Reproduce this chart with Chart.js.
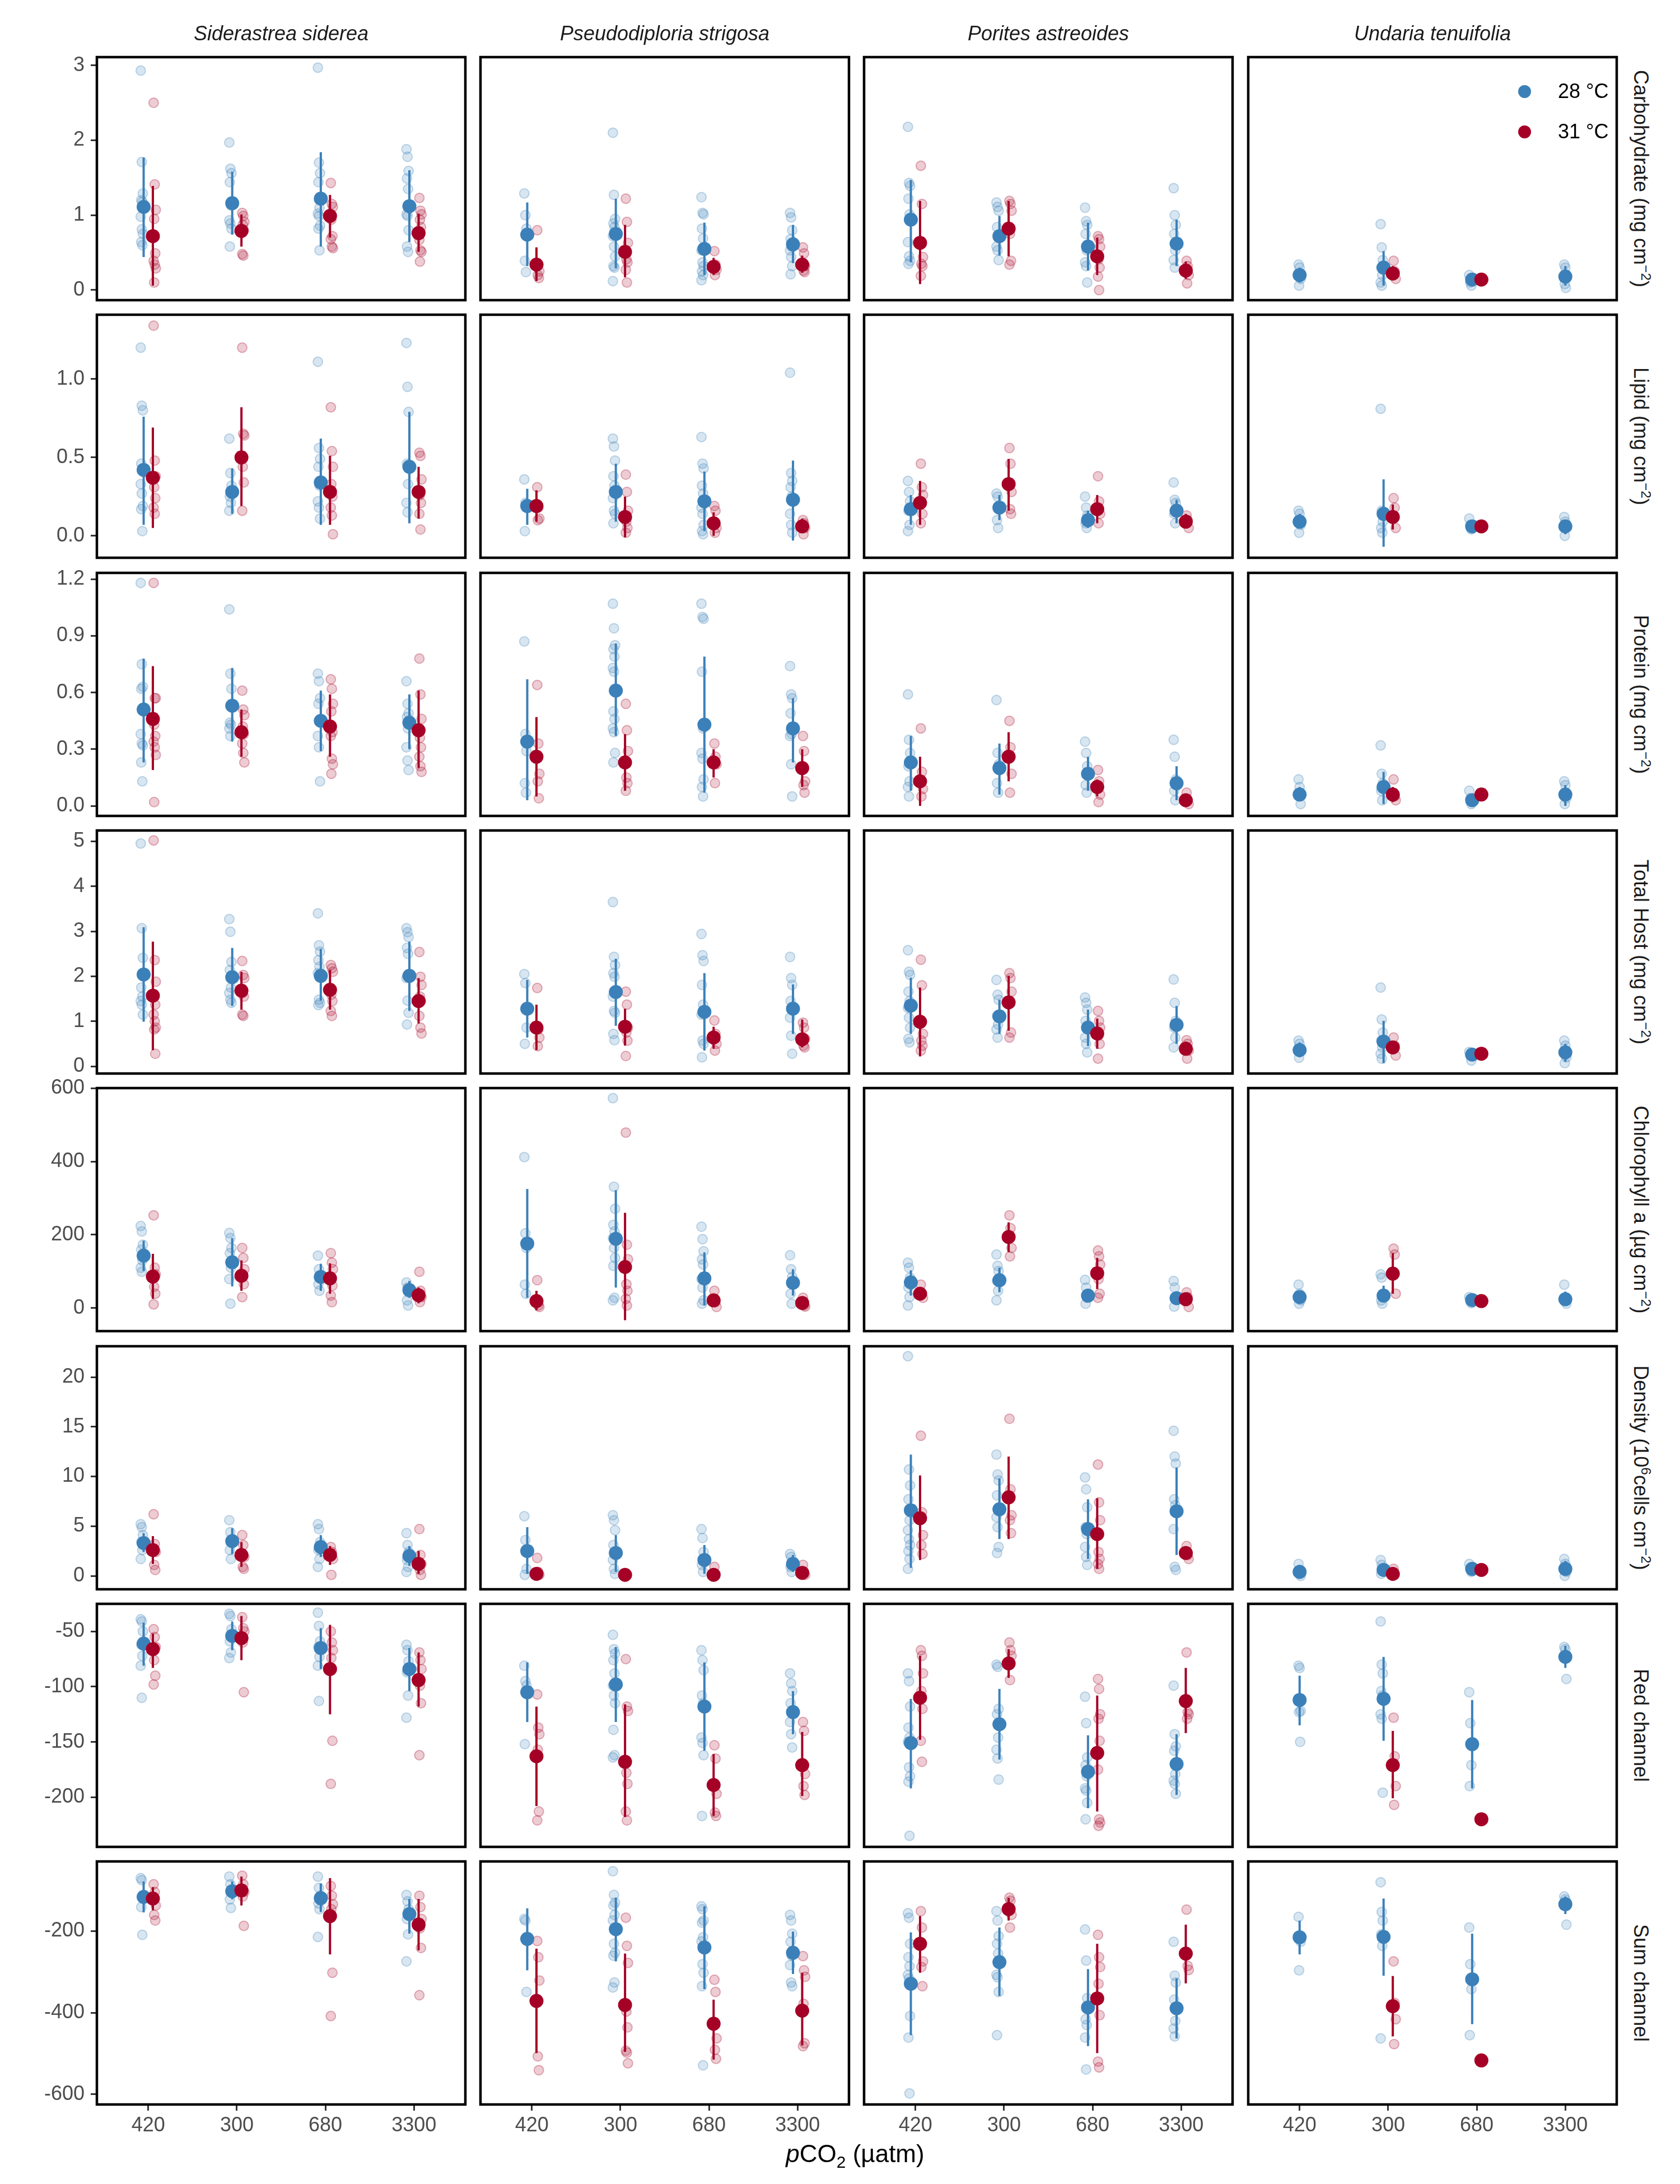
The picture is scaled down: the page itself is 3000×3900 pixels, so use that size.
<!DOCTYPE html>
<html>
<head>
<meta charset="utf-8">
<script src="https://cdn.jsdelivr.net/npm/chart.js@4.4.1/dist/chart.umd.min.js"></script>
<style>
  body { margin: 0; background: #fff; }
  #page { position: relative; width: 3000px; height: 3900px; font-family: 'Liberation Sans', Arial, sans-serif; }
  canvas { position: absolute; }
  .strip-top { position: absolute; top: 40px; width: 658px; text-align: center; font-style: italic; font-size: 36px; line-height: 40px; color: #1a1a1a; white-space: nowrap; }
  .strip-right { position: absolute; width: 434px; height: 40px; line-height: 40px; font-size: 36px; text-align: center; transform: rotate(90deg); color: #1a1a1a; white-space: nowrap; }
  sup, sub { font-size: 0.68em; line-height: 0; }
  .legend-dot { position: absolute; width: 23px; height: 23px; border-radius: 50%; }
  .legend-text { position: absolute; font-size: 36px; line-height: 40px; color: #000; white-space: nowrap; }
  .x-title { position: absolute; top: 3821px; left: 1227px; width: 600px; text-align: center; font-size: 44px; line-height: 50px; color: #000; }
</style>
</head>
<body>
<div id="page"></div>
<script>
// facets
const species = ['Siderastrea siderea', 'Pseudodiploria strigosa', 'Porites astreoides', 'Undaria tenuifolia'];
const pco2Labels = ['420', '300', '680', '3300'];
const rowLabels = [
    'Carbohydrate (mg cm<sup>−2</sup>)',
    'Lipid (mg cm<sup>−2</sup>)',
    'Protein (mg cm<sup>−2</sup>)',
    'Total Host (mg cm<sup>−2</sup>)',
    'Chlorophyll a (µg cm<sup>−2</sup>)',
    'Density (10<sup>6</sup>cells cm<sup>−2</sup>)',
    'Red channel',
    'Sum channel'
];
const yTickLabels = [
    ['0', '1', '2', '3'],
    ['0.0', '0.5', '1.0'],
    ['0.0', '0.3', '0.6', '0.9', '1.2'],
    ['0', '1', '2', '3', '4', '5'],
    ['0', '200', '400', '600'],
    ['0', '5', '10', '15', '20'],
    ['-200', '-150', '-100', '-50'],
    ['-600', '-400', '-200']
];
const yLimits = [[-0.135, 3.11], [-0.14, 1.41], [-0.053, 1.233], [-0.16, 5.24], [-63, 600.5], [-1.35, 23.1], [-245, -25], [-625, -29]];

// summaries: [species][pCO2] = [mean, lower, upper]; raw: [species][pCO2] = points
const carbSum28 = [
    [[1.11, 0.44, 1.77], [1.16, 0.74, 1.58], [1.22, 0.58, 1.84], [1.12, 0.64, 1.60]],
    [[0.74, 0.32, 1.17], [0.75, 0.29, 1.22], [0.55, 0.20, 0.90], [0.61, 0.36, 0.87]],
    [[0.94, 0.37, 1.47], [0.72, 0.46, 0.99], [0.58, 0.26, 0.90], [0.62, 0.32, 0.94]],
    [[0.20, 0.10, 0.30], [0.30, 0.06, 0.52], [0.14, 0.10, 0.18], [0.18, 0.06, 0.32]]
];
const carbSum31 = [
    [[0.72, 0.06, 1.39], [0.79, 0.58, 1.01], [0.99, 0.70, 1.27], [0.76, 0.51, 1.02]],
    [[0.34, 0.12, 0.57], [0.51, 0.17, 0.87], [0.31, 0.20, 0.43], [0.34, 0.23, 0.46]],
    [[0.63, 0.08, 1.19], [0.82, 0.45, 1.19], [0.45, 0.20, 0.70], [0.26, 0.15, 0.38]],
    [null, [0.22, 0.13, 0.32], [0.14, 0.14, 0.14], null]
];
const carbRaw28 = [
    [[2.93, 1.71, 1.29, 1.20, 1.18, 0.98, 0.81, 0.75, 0.64, 0.60], [1.97, 1.62, 1.56, 1.44, 1.13, 0.93, 0.89, 0.82, 0.58], [2.97, 1.70, 1.56, 1.44, 1.10, 1.02, 0.99, 0.86, 0.82, 0.53], [1.88, 1.78, 1.59, 1.49, 1.35, 1.01, 0.99, 0.80, 0.58, 0.51]],
    [[1.29, 1.00, 0.82, 0.39, 0.24], [2.10, 1.27, 0.95, 0.89, 0.84, 0.72, 0.58, 0.45, 0.32, 0.30, 0.12], [1.24, 1.03, 1.01, 0.82, 0.69, 0.53, 0.37, 0.32, 0.25, 0.20, 0.13], [1.03, 0.97, 0.80, 0.68, 0.58, 0.53, 0.44, 0.32, 0.21]],
    [[2.18, 1.43, 1.39, 1.22, 1.01, 0.64, 0.45, 0.39, 0.35], [1.17, 1.11, 1.06, 0.84, 0.70, 0.58, 0.53, 0.40], [1.10, 0.92, 0.87, 0.75, 0.53, 0.37, 0.32, 0.10], [1.36, 1.00, 0.87, 0.75, 0.53, 0.40, 0.30]],
    [[0.34, 0.30, 0.15, 0.06], [0.88, 0.57, 0.40, 0.30, 0.20, 0.10, 0.06], [0.20, 0.10, 0.06], [0.34, 0.30, 0.20, 0.08, 0.03]]
];
const carbRaw31 = [
    [[2.50, 1.41, 1.07, 0.95, 0.49, 0.39, 0.34, 0.29, 0.10], [1.03, 0.99, 0.91, 0.87, 0.80, 0.48, 0.46], [1.43, 1.15, 1.11, 0.94, 0.72, 0.68, 0.58, 0.56], [1.23, 1.06, 1.01, 0.94, 0.84, 0.67, 0.53, 0.51, 0.38]],
    [[0.80, 0.34, 0.25, 0.20, 0.16], [1.22, 0.91, 0.63, 0.41, 0.37, 0.27, 0.10], [0.52, 0.34, 0.27, 0.20], [0.57, 0.49, 0.32, 0.26, 0.24]],
    [[1.66, 1.15, 0.44, 0.35, 0.32, 0.19], [1.19, 1.15, 1.06, 0.75, 0.39, 0.34], [0.72, 0.68, 0.58, 0.41, 0.30, 0.18, 0.00], [0.39, 0.32, 0.20, 0.09]],
    [[], [0.39, 0.25, 0.15], [0.14], []]
];

const lipidSum28 = [
    [[0.42, 0.07, 0.76], [0.28, 0.14, 0.43], [0.34, 0.07, 0.62], [0.44, 0.08, 0.79]],
    [[0.19, 0.07, 0.30], [0.28, 0.09, 0.46], [0.22, 0.03, 0.41], [0.23, -0.03, 0.48]],
    [[0.17, 0.07, 0.26], [0.18, 0.10, 0.26], [0.10, 0.05, 0.16], [0.16, 0.08, 0.23]],
    [[0.09, 0.05, 0.14], [0.14, -0.07, 0.36], [0.06, 0.04, 0.08], [0.06, 0.01, 0.10]]
];
const lipidSum31 = [
    [[0.37, 0.05, 0.69], [0.50, 0.19, 0.82], [0.28, 0.07, 0.51], [0.28, 0.11, 0.44]],
    [[0.19, 0.09, 0.29], [0.12, -0.01, 0.25], [0.08, 0.00, 0.15], [0.06, 0.02, 0.11]],
    [[0.21, 0.07, 0.35], [0.33, 0.16, 0.49], [0.17, 0.08, 0.26], [0.09, 0.05, 0.14]],
    [null, [0.12, 0.04, 0.20], [0.06, 0.06, 0.06], null]
];
const lipidRaw28 = [
    [[1.20, 0.83, 0.80, 0.46, 0.43, 0.33, 0.27, 0.19, 0.17, 0.03], [0.62, 0.40, 0.32, 0.25, 0.21, 0.16], [1.11, 0.56, 0.49, 0.44, 0.32, 0.22, 0.18, 0.11], [1.23, 0.95, 0.79, 0.46, 0.33, 0.21, 0.15]],
    [[0.36, 0.21, 0.18, 0.03], [0.62, 0.57, 0.48, 0.38, 0.32, 0.24, 0.16, 0.14, 0.08], [0.63, 0.46, 0.43, 0.32, 0.27, 0.18, 0.14, 0.07, 0.03, 0.01], [1.04, 0.40, 0.35, 0.31, 0.25, 0.14, 0.07, 0.02]],
    [[0.35, 0.28, 0.22, 0.16, 0.07, 0.03], [0.27, 0.25, 0.17, 0.10, 0.05], [0.25, 0.18, 0.13, 0.08, 0.05], [0.34, 0.23, 0.21, 0.14, 0.08]],
    [[0.16, 0.14, 0.07, 0.02], [0.81, 0.16, 0.09, 0.05, 0.02], [0.11, 0.07, 0.04], [0.12, 0.09, 0.07, 0.00]]
];
const lipidRaw31 = [
    [[1.34, 0.48, 0.38, 0.31, 0.24, 0.18, 0.14], [1.20, 0.65, 0.64, 0.44, 0.34, 0.16], [0.82, 0.54, 0.44, 0.33, 0.25, 0.18, 0.13, 0.01], [0.53, 0.51, 0.36, 0.26, 0.21, 0.14, 0.04]],
    [[0.31, 0.18, 0.11, 0.10], [0.39, 0.28, 0.16, 0.09, 0.05, 0.02], [0.19, 0.16, 0.05, 0.02], [0.10, 0.08, 0.05, 0.01]],
    [[0.46, 0.31, 0.26, 0.21, 0.14, 0.08], [0.56, 0.46, 0.28, 0.17, 0.14], [0.38, 0.22, 0.14, 0.08], [0.13, 0.10, 0.05]],
    [[], [0.24, 0.18, 0.05], [0.06], []]
];

const protSum28 = [
    [[0.51, 0.23, 0.78], [0.53, 0.34, 0.73], [0.45, 0.29, 0.61], [0.44, 0.30, 0.59]],
    [[0.34, 0.03, 0.67], [0.61, 0.37, 0.86], [0.43, 0.07, 0.79], [0.41, 0.23, 0.57]],
    [[0.23, 0.08, 0.37], [0.20, 0.06, 0.33], [0.17, 0.08, 0.26], [0.12, 0.03, 0.21]],
    [[0.06, 0.03, 0.10], [0.10, 0.01, 0.18], [0.03, 0.02, 0.05], [0.06, 0.00, 0.11]]
];
const protSum31 = [
    [[0.46, 0.19, 0.74], [0.39, 0.26, 0.51], [0.42, 0.26, 0.59], [0.40, 0.20, 0.61]],
    [[0.26, 0.05, 0.47], [0.23, 0.08, 0.38], [0.23, 0.15, 0.30], [0.20, 0.10, 0.30]],
    [[0.13, 0.00, 0.26], [0.26, 0.13, 0.39], [0.10, 0.05, 0.14], [0.03, 0.02, 0.05]],
    [null, [0.06, 0.02, 0.10], [0.06, 0.06, 0.06], null]
];
const protRaw28 = [
    [[1.18, 0.75, 0.63, 0.62, 0.51, 0.38, 0.33, 0.32, 0.23, 0.13], [1.04, 0.70, 0.62, 0.44, 0.43, 0.41, 0.37], [0.70, 0.66, 0.57, 0.54, 0.45, 0.37, 0.31, 0.13], [0.66, 0.54, 0.49, 0.47, 0.41, 0.31, 0.24, 0.19]],
    [[0.87, 0.38, 0.29, 0.12, 0.07], [1.07, 0.94, 0.85, 0.83, 0.79, 0.73, 0.71, 0.62, 0.50, 0.46, 0.41, 0.39, 0.28, 0.23], [1.07, 1.00, 0.99, 0.71, 0.41, 0.28, 0.25, 0.14, 0.10, 0.05], [0.74, 0.59, 0.57, 0.49, 0.38, 0.37, 0.22, 0.05]],
    [[0.59, 0.35, 0.28, 0.21, 0.13, 0.10, 0.05], [0.56, 0.28, 0.22, 0.12, 0.07], [0.34, 0.28, 0.21, 0.11, 0.07], [0.35, 0.26, 0.14, 0.08, 0.03]],
    [[0.14, 0.10, 0.01], [0.32, 0.17, 0.12, 0.08, 0.03], [0.08, 0.04, 0.01], [0.13, 0.11, 0.04, 0.01]]
];
const protRaw31 = [
    [[1.18, 0.57, 0.57, 0.43, 0.37, 0.34, 0.31, 0.27, 0.02], [0.61, 0.51, 0.48, 0.42, 0.38, 0.33, 0.28, 0.23], [0.67, 0.62, 0.54, 0.50, 0.39, 0.37, 0.25, 0.22, 0.17], [0.78, 0.59, 0.46, 0.36, 0.31, 0.26, 0.21, 0.18]],
    [[0.64, 0.33, 0.17, 0.13, 0.04], [0.54, 0.40, 0.29, 0.15, 0.12, 0.08], [0.33, 0.26, 0.22, 0.12], [0.37, 0.29, 0.13, 0.11, 0.07]],
    [[0.41, 0.18, 0.09, 0.05], [0.45, 0.31, 0.17, 0.07], [0.19, 0.13, 0.06, 0.02], [0.07, 0.03, 0.01]],
    [[], [0.14, 0.05, 0.03], [0.06], []]
];

const hostSum28 = [
    [[2.04, 0.99, 3.09], [1.98, 1.34, 2.63], [2.01, 1.46, 2.61], [2.01, 1.23, 2.77]],
    [[1.28, 0.64, 1.92], [1.65, 0.90, 2.39], [1.21, 0.35, 2.07], [1.28, 0.72, 1.82]],
    [[1.35, 0.72, 1.97], [1.11, 0.72, 1.48], [0.86, 0.45, 1.26], [0.92, 0.50, 1.34]],
    [[0.36, 0.20, 0.53], [0.55, 0.07, 1.01], [0.26, 0.20, 0.32], [0.31, 0.10, 0.50]]
];
const hostSum31 = [
    [[1.57, 0.36, 2.77], [1.68, 1.26, 2.10], [1.70, 1.26, 2.14], [1.45, 0.95, 1.96]],
    [[0.86, 0.36, 1.37], [0.88, 0.46, 1.28], [0.64, 0.39, 0.88], [0.60, 0.42, 1.04]],
    [[0.99, 0.22, 1.75], [1.42, 0.79, 2.01], [0.73, 0.39, 1.06], [0.39, 0.24, 0.55]],
    [null, [0.42, 0.28, 0.57], [0.28, 0.28, 0.28], null]
];
const hostRaw28 = [
    [[4.95, 3.07, 2.41, 1.75, 1.55, 1.45, 1.37, 1.15], [3.27, 2.99, 2.32, 2.14, 1.75, 1.63, 1.48, 1.41], [3.40, 2.69, 2.55, 2.36, 2.21, 2.07, 1.48, 1.41, 1.36], [3.07, 2.98, 2.87, 2.63, 2.50, 1.96, 1.46, 1.19, 0.93]],
    [[2.05, 1.85, 0.86, 0.50], [3.65, 2.43, 2.25, 2.07, 1.99, 1.55, 1.23, 1.19, 0.72, 0.58], [2.94, 2.47, 2.34, 1.81, 1.37, 1.15, 0.57, 0.50, 0.20], [2.43, 1.96, 1.81, 1.45, 1.26, 1.08, 0.68, 0.28]],
    [[2.58, 2.10, 2.03, 1.66, 1.45, 1.30, 1.08, 0.86, 0.61, 0.53], [1.92, 1.59, 1.48, 1.12, 0.93, 0.82, 0.64], [1.53, 1.41, 1.26, 1.01, 0.86, 0.64, 0.50, 0.31], [1.93, 1.41, 1.01, 0.86, 0.64, 0.42]],
    [[0.57, 0.50, 0.35, 0.19], [1.75, 1.04, 0.75, 0.57, 0.42, 0.28, 0.17], [0.32, 0.24, 0.13], [0.57, 0.46, 0.20, 0.07]]
];
const hostRaw31 = [
    [[5.02, 2.36, 1.88, 1.55, 1.37, 1.15, 1.00, 0.86, 0.82, 0.28], [2.34, 2.03, 1.96, 1.63, 1.55, 1.15, 1.12], [2.25, 2.18, 2.10, 1.59, 1.45, 1.23, 1.12], [2.54, 1.99, 1.81, 1.55, 1.45, 1.12, 0.86, 0.73]],
    [[1.74, 0.82, 0.64, 0.45], [1.66, 1.37, 0.86, 0.75, 0.57, 0.23], [1.02, 0.72, 0.50, 0.35], [0.97, 0.86, 0.61, 0.46, 0.42]],
    [[2.37, 1.80, 0.72, 0.57, 0.46, 0.35], [2.07, 1.96, 1.66, 1.45, 0.75, 0.64], [1.23, 1.01, 0.86, 0.68, 0.50, 0.17], [0.58, 0.50, 0.35, 0.17]],
    [[], [0.64, 0.46, 0.24], [0.28], []]
];

const chlSum28 = [
    [[143, 101, 184], [125, 59, 191], [85, 47, 121], [49, 28, 74]],
    [[176, 28, 325], [189, 56, 322], [81, 7, 152], [69, 34, 106]],
    [[70, 34, 103], [76, 43, 110], [34, 20, 47], [27, 13, 40]],
    [[30, 16, 43], [34, 16, 61], [22, 17, 27], [24, 7, 45]]
];
const chlSum31 = [
    [[86, 25, 148], [88, 47, 130], [81, 39, 122], [35, 13, 56]],
    [[19, -6, 47], [112, -33, 260], [21, 7, 34], [14, 3, 28]],
    [[39, 28, 49], [194, 153, 234], [95, 52, 137], [24, 12, 37]],
    [null, [94, 39, 150], [19, 19, 19], null]
];
const chlRaw28 = [
    [[224, 209, 173, 159, 130, 110, 99], [205, 191, 164, 150, 110, 79, 12], [143, 106, 83, 65, 47], [70, 56, 43, 21, 7]],
    [[412, 204, 164, 64, 39], [573, 331, 271, 227, 209, 191, 164, 137, 115, 28, 21], [222, 188, 155, 133, 119, 79, 56, 21, 12], [144, 106, 85, 39, 12]],
    [[124, 110, 83, 56, 30, 7], [146, 115, 101, 74, 47, 21], [77, 56, 28, 12], [74, 56, 30, 4]],
    [[64, 39, 21, 12], [92, 83, 39, 21, 12], [30, 19, 13], [64, 25, 12]]
];
const chlRaw31 = [
    [[253, 110, 92, 58, 39, 10], [164, 137, 106, 92, 65, 30], [150, 124, 106, 83, 61, 34, 16], [99, 47, 30, 16]],
    [[76, 7, 3], [479, 173, 133, 65, 47, 25, 7], [47, 16, 3], [28, 7, 4]],
    [[64, 39, 28], [253, 218, 164, 141], [157, 141, 119, 79, 39, 28], [43, 30, 3]],
    [[], [162, 146, 39], [19], []]
];

const densSum28 = [
    [[3.3, 2.4, 4.3], [3.5, 2.2, 4.8], [2.9, 1.9, 4.1], [2.0, 1.0, 3.0]],
    [[2.5, 0.2, 4.9], [2.3, 0.4, 4.1], [1.6, 0.2, 3.1], [1.2, 0.4, 2.1]],
    [[6.6, 0.8, 12.2], [6.7, 3.7, 9.8], [4.7, 1.7, 7.7], [6.5, 2.1, 10.9]],
    [[0.4, -0.1, 1.1], [0.6, 0.1, 1.2], [0.7, 0.4, 1.0], [0.7, 0.0, 1.5]]
];
const densSum31 = [
    [[2.6, 1.2, 4.0], [2.1, 0.9, 3.4], [2.1, 1.1, 3.0], [1.2, 0.2, 2.5]],
    [[0.2, 0.0, 0.5], [0.1, 0.0, 0.2], [0.1, 0.0, 0.3], [0.3, 0.1, 0.5]],
    [[5.8, 1.6, 10.1], [7.9, 3.7, 12.0], [4.2, 0.7, 7.8], [2.3, 1.9, 2.7]],
    [null, [0.2, 0.1, 0.4], [0.6, 0.6, 0.6], null]
];
const densRaw28 = [
    [[5.2, 4.9, 4.1, 3.4, 2.6, 1.7], [5.6, 4.4, 3.4, 2.6, 1.7], [5.2, 4.7, 3.4, 2.6, 1.7, 0.9], [4.3, 3.1, 2.4, 1.6, 0.9, 0.4]],
    [[6.0, 3.6, 0.7, 0.1], [6.1, 5.6, 4.6, 3.1, 2.4, 1.6, 0.7, 0.2], [4.7, 3.8, 2.4, 1.1, 0.4], [2.2, 1.9, 1.4, 0.9, 0.4]],
    [[22.1, 10.7, 9.1, 7.7, 5.6, 4.6, 3.7, 3.1, 2.5, 1.7, 0.7], [12.2, 10.2, 9.6, 8.1, 6.7, 5.9, 4.9, 2.9, 2.3], [9.9, 8.7, 6.9, 4.9, 4.2, 2.9, 1.9, 1.1], [14.6, 12.0, 11.3, 7.7, 7.1, 4.7, 0.9, 0.6]],
    [[1.2, 0.6, 0.0], [1.6, 1.1, 0.7, 0.2], [1.2, 0.8, 0.4], [1.7, 1.2, 0.4, 0.0]]
];
const densRaw31 = [
    [[6.2, 3.2, 2.4, 1.1, 0.6], [4.1, 3.1, 1.9, 0.9, 0.7], [2.9, 2.4, 1.7, 0.1], [4.7, 2.1, 1.2, 0.6, 0.1]],
    [[1.8, 0.4, 0.1], [0.2, 0.1], [0.9, 0.2], [1.1, 0.4, 0.1]],
    [[14.1, 6.4, 4.1, 3.1, 2.2], [15.8, 8.7, 6.1, 5.6, 4.3], [11.2, 7.4, 5.6, 2.4, 1.7, 1.2, 0.7], [3.0, 2.1, 1.7]],
    [[], [0.7, 0.1], [0.6], []]
];

const redSum28 = [
    [[-61, -81, -42], [-54, -67, -41], [-65, -84, -47], [-84, -104, -65]],
    [[-105, -132, -78], [-98, -132, -64], [-118, -158, -78], [-123, -143, -104]],
    [[-151, -192, -111], [-134, -166, -102], [-177, -210, -144], [-170, -198, -143]],
    [[-112, -135, -90], [-111, -149, -73], [-152, -192, -112], [-73, -83, -63]]
];
const redSum31 = [
    [[-66, -83, -52], [-56, -76, -36], [-84, -125, -44], [-94, -118, -69]],
    [[-163, -208, -118], [-168, -218, -116], [-189, -217, -161], [-171, -199, -141]],
    [[-110, -148, -72], [-79, -92, -66], [-160, -213, -108], [-113, -142, -83]],
    [null, [-171, -201, -140], [-220, -220, -220], null]
];
const redRaw28 = [
    [[-39, -41, -50, -62, -72, -81, -110], [-34, -36, -48, -59, -69, -74], [-33, -45, -59, -64, -73, -81, -113], [-62, -67, -77, -87, -108, -128]],
    [[-81, -95, -99, -152], [-53, -66, -70, -76, -88, -99, -108, -115, -139, -162, -164], [-67, -76, -85, -108, -115, -146, -151, -162, -217], [-88, -97, -104, -115, -124, -132, -143, -155]],
    [[-88, -95, -118, -137, -146, -150, -173, -181, -186, -235], [-80, -82, -120, -125, -146, -157, -165, -184], [-109, -133, -164, -171, -181, -192, -194, -205, -220], [-99, -143, -154, -158, -179, -185, -188, -197]],
    [[-81, -83, -122, -123, -150], [-41, -80, -88, -104, -108, -125, -129, -196], [-105, -133, -171, -190], [-64, -66, -93]]
];
const redRaw31 = [
    [[-48, -55, -64, -76, -90, -98], [-37, -47, -50, -60, -105], [-50, -60, -67, -74, -149, -188], [-69, -76, -84, -99, -115, -162]],
    [[-107, -137, -143, -157, -213, -221], [-75, -118, -122, -178, -188, -213, -221], [-153, -165, -197, -214, -217], [-132, -140, -179, -190, -198]],
    [[-67, -72, -88, -104, -120, -149, -168], [-60, -67, -72, -94], [-93, -102, -125, -129, -149, -175, -220, -223, -226], [-69, -123, -125, -129]],
    [[], [-128, -163, -190, -207], [-220], []]
];

const sumSum28 = [
    [[-116, -154, -78], [-102, -122, -78], [-119, -153, -83], [-158, -206, -121]],
    [[-219, -296, -144], [-195, -274, -118], [-240, -342, -139], [-253, -305, -201]],
    [[-329, -455, -203], [-276, -359, -191], [-387, -482, -293], [-389, -463, -316]],
    [[-215, -257, -174], [-214, -309, -120], [-318, -428, -206], [-134, -158, -115]]
];
const sumSum31 = [
    [[-120, -149, -92], [-100, -137, -66], [-163, -257, -70], [-184, -247, -121]],
    [[-371, -499, -243], [-381, -496, -255], [-427, -515, -368], [-395, -480, -302]],
    [[-231, -302, -163], [-146, -174, -118], [-365, -499, -231], [-255, -328, -184]],
    [null, [-384, -458, -310], [-517, -517, -517], null]
];
const sumRaw28 = [
    [[-70, -75, -113, -141, -209], [-66, -85, -104, -122, -143], [-66, -94, -113, -132, -146, -214], [-111, -127, -146, -170, -208, -274]],
    [[-170, -174, -349], [-53, -111, -130, -137, -160, -174, -231, -253, -260, -326, -338], [-139, -146, -174, -179, -215, -225, -281, -302, -335, -529], [-160, -174, -206, -226, -260, -283, -326, -335]],
    [[-156, -167, -231, -264, -286, -307, -316, -408, -461, -598], [-151, -174, -212, -231, -255, -307, -313, -349, -455], [-196, -272, -364, -416, -430, -461, -539], [-226, -309, -326, -368, -420, -439, -458]],
    [[-165, -212, -226, -296], [-80, -153, -174, -208, -236, -463], [-191, -281, -342, -455], [-115, -122, -184]]
];
const sumRaw31 = [
    [[-85, -104, -137, -160, -174], [-64, -85, -104, -115, -187], [-89, -113, -134, -146, -302, -408], [-113, -141, -170, -193, -241, -357]],
    [[-224, -264, -321, -507, -541], [-167, -236, -278, -397, -436, -493, -498, -524], [-319, -349, -463, -491, -513], [-261, -296, -312, -378, -475, -482]],
    [[-151, -191, -274, -288, -335], [-118, -125, -160, -191], [-209, -264, -288, -329, -406, -520, -534], [-147, -285, -295]],
    [[], [-274, -376, -416, -477], [-517], []]
];

const rowData = [
    [carbSum28, carbSum31, carbRaw28, carbRaw31],
    [lipidSum28, lipidSum31, lipidRaw28, lipidRaw31],
    [protSum28, protSum31, protRaw28, protRaw31],
    [hostSum28, hostSum31, hostRaw28, hostRaw31],
    [chlSum28, chlSum31, chlRaw28, chlRaw31],
    [densSum28, densSum31, densRaw28, densRaw31],
    [redSum28, redSum31, redRaw28, redRaw31],
    [sumSum28, sumSum31, sumRaw28, sumRaw31]
];

// layout
const BLUE = '#3B80B9';
const RED = '#A50026';
const colLeft = [173, 858, 1543, 2229];
const PW = 658, PH = 434, PAD = 8, PAD_TOP_Y = 26, YAXIS_W = 173, XAXIS_H = 90;
const rowTop = r => 102 + Math.round(r * 460.3);
const tickFont = { family: "'Liberation Sans', Arial, sans-serif", size: 36 };
const page = document.getElementById('page');

// panel border drawn over the data, like the ggplot panel.border
const framePlugin = {
    id: 'frame',
    afterDatasetsDraw(chart) {
        const { ctx, chartArea: a } = chart;
        ctx.save();
        ctx.lineWidth = 4.5;
        ctx.strokeStyle = '#000';
        ctx.strokeRect(a.left, a.top, a.right - a.left, a.bottom - a.top);
        ctx.restore();
    }
};

function napraviPanel(r, c) {
    const [sum28, sum31, raw28, raw31] = rowData[r];
    const datasets = [];
    const grupe = [
        [sum28, raw28, BLUE, 'rgba(59,128,185,', -1, 1.1],
        [sum31, raw31, RED, 'rgba(165,0,38,', 1, 1]
    ];
    grupe.forEach(([sum, raw, boja, rgba, strana, red]) => {
        const tocke = [];
        const srednje = [];
        for (let k = 0; k < 4; k++) {
            const obje = sum28[c][k] && sum31[c][k];
            const dm = obje ? strana * 0.052 : 0;
            const dr = obje ? strana * 0.073 : 0;
            raw[c][k].forEach((v, i) => {
                tocke.push({ x: k + 1 + dr + ((i * 7) % 5 - 2) * 0.006, y: v });
            });
            const g = sum[c][k];
            if (!g) continue;
            srednje.push({ x: k + 1 + dm, y: g[0] });
            if (g[2] > g[1]) {
                datasets.push({
                    data: [{ x: k + 1 + dm, y: g[1] }, { x: k + 1 + dm, y: g[2] }],
                    showLine: true,
                    borderColor: boja,
                    borderWidth: 4,
                    borderCapStyle: 'butt',
                    pointRadius: 0,
                    order: 2
                });
            }
        }
        datasets.push({
            data: tocke,
            pointRadius: 8.5,
            backgroundColor: rgba + '0.2)',
            borderColor: rgba + '0.3)',
            borderWidth: 2,
            order: 3
        });
        datasets.push({
            data: srednje,
            pointRadius: 12.5,
            backgroundColor: boja,
            borderWidth: 0,
            order: red
        });
    });

    const showY = c === 0;
    const showX = r === 7;
    const padL = showY ? YAXIS_W : PAD;
    const padT = showY ? PAD_TOP_Y : PAD;
    const padB = showX ? XAXIS_H : PAD;
    const canvas = document.createElement('canvas');
    canvas.width = padL + PW + PAD;
    canvas.height = padT + PH + padB;
    canvas.style.left = (colLeft[c] - padL) + 'px';
    canvas.style.top = (rowTop(r) - padT) + 'px';
    page.appendChild(canvas);

    const yTicks = yTickLabels[r].map(Number);
    const gridOpts = { display: true, drawOnChartArea: false, drawTicks: true, tickLength: 11, tickWidth: 3, tickColor: '#333333' };
    // the panel size is fixed, so the label overhang must not shrink it
    const bezPadinga = ax => { ax.paddingTop = 0; ax.paddingBottom = 0; ax.paddingLeft = 0; ax.paddingRight = 0; };

    new Chart(canvas.getContext('2d'), {
        type: 'scatter',
        data: { datasets },
        options: {
            responsive: false,
            animation: false,
            devicePixelRatio: 1,
            events: [],
            layout: {
                autoPadding: false,
                padding: { left: showY ? 0 : PAD, right: PAD, top: padT, bottom: showX ? 0 : PAD }
            },
            plugins: { legend: { display: false }, tooltip: { enabled: false } },
            scales: {
                x: {
                    type: 'linear',
                    min: 0.42,
                    max: 4.58,
                    display: showX,
                    afterBuildTicks: ax => { ax.ticks = [1, 2, 3, 4].map(v => ({ value: v })); },
                    afterFit: ax => { if (showX) ax.height = XAXIS_H; bezPadinga(ax); },
                    grid: gridOpts,
                    border: { display: false },
                    ticks: {
                        callback: (v, i) => pco2Labels[i],
                        font: tickFont,
                        color: '#4D4D4D',
                        padding: 5,
                        maxRotation: 0,
                        autoSkip: false
                    }
                },
                y: {
                    type: 'linear',
                    min: yLimits[r][0],
                    max: yLimits[r][1],
                    display: showY,
                    afterBuildTicks: ax => { ax.ticks = yTicks.map(v => ({ value: v })); },
                    afterFit: ax => { if (showY) ax.width = YAXIS_W; bezPadinga(ax); },
                    grid: gridOpts,
                    border: { display: false },
                    ticks: {
                        callback: (v, i) => yTickLabels[r][i],
                        font: tickFont,
                        color: '#4D4D4D',
                        padding: 11,
                        autoSkip: false
                    }
                }
            }
        },
        plugins: [framePlugin]
    });
}

for (let r = 0; r < 8; r++) {
    for (let c = 0; c < 4; c++) {
        napraviPanel(r, c);
    }
}

// strip labels
species.forEach((ime, c) => {
    const d = document.createElement('div');
    d.className = 'strip-top';
    d.style.left = colLeft[c] + 'px';
    d.textContent = ime;
    page.appendChild(d);
});
rowLabels.forEach((tekst, r) => {
    const d = document.createElement('div');
    d.className = 'strip-right';
    d.style.left = (2930 - PH / 2) + 'px';
    d.style.top = (rowTop(r) + PH / 2 - 20) + 'px';
    d.innerHTML = tekst;
    page.appendChild(d);
});

// legend
[['28 °C', BLUE, 163], ['31 °C', RED, 235]].forEach(([tekst, boja, y]) => {
    const dot = document.createElement('div');
    dot.className = 'legend-dot';
    dot.style.background = boja;
    dot.style.left = (2722 - 11.5) + 'px';
    dot.style.top = (y - 11.5) + 'px';
    page.appendChild(dot);
    const t = document.createElement('div');
    t.className = 'legend-text';
    t.style.left = '2782px';
    t.style.top = (y - 20) + 'px';
    t.textContent = tekst;
    page.appendChild(t);
});

// x axis title
const xt = document.createElement('div');
xt.className = 'x-title';
xt.innerHTML = '<i>p</i>CO<sub>2</sub> (µatm)';
page.appendChild(xt);
</script>
</body>
</html>
